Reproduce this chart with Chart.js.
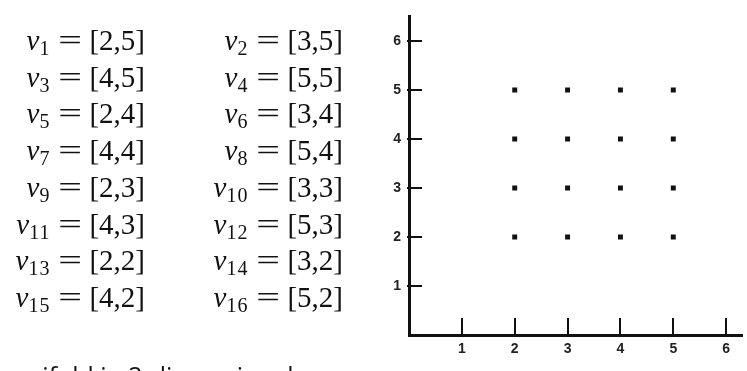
<!DOCTYPE html>
<html>
<head>
<meta charset="utf-8">
<script src="https://cdn.jsdelivr.net/npm/chart.js@4/dist/chart.umd.min.js"></script>
<style>
  html, body { margin: 0; padding: 0; background: #fff; overflow: hidden; }
  #wrap { position: relative; width: 747px; height: 371px; }
  #plot { position: absolute; left: 0; top: 0; }
  .eq {
    position: absolute; white-space: nowrap; text-align: right;
    font-family: 'Liberation Serif', 'Times New Roman', serif;
    font-size: 29px; line-height: 28px; color: #111;
  }
  .eq i { font-style: italic; }
  .eq sub { font-size: 20px; vertical-align: -5px; line-height: 0; letter-spacing: 1px; }
  .eq .rel { display: inline-block; width: 24px; margin: 0 7px 0 8px; text-align: center; transform: scaleX(1.45); }
  #caption {
    position: absolute; left: -10px; top: 364px; white-space: nowrap;
    font-family: 'Open Sans', sans-serif; font-size: 25px; line-height: 22px; color: #111;
  }
</style>
</head>
<body>
<div id="wrap">
  <canvas id="plot" width="747" height="371"></canvas>
  <div id="eqs"></div>
  <div id="caption"></div>
</div>
<script>
// points of the grid, v1..v16
var pointX = [2, 3, 4, 5, 2, 3, 4, 5, 2, 3, 4, 5, 2, 3, 4, 5];
var pointY = [5, 5, 5, 5, 4, 4, 4, 4, 3, 3, 3, 3, 2, 2, 2, 2];
var xTicks = [1, 2, 3, 4, 5, 6];
var yTicks = [1, 2, 3, 4, 5, 6];
var caption = 'manifold in 2-dimensional space';

// equations list, two per row
var eqBox = document.getElementById('eqs');
pointX.forEach(function (x, i) {
    var d = document.createElement('div');
    d.className = 'eq';
    var col = i % 2, row = Math.floor(i / 2);
    d.style.right = (747 - (col ? 343 : 145)) + 'px';
    d.style.top = (26 + row * 36.7) + 'px';
    d.innerHTML = '<i>v</i><sub>' + (i + 1) + '</sub><span class="rel">=</span>[' + x + ',' + pointY[i] + ']';
    eqBox.appendChild(d);
});
document.getElementById('caption').textContent = caption;

// short tick marks on the inner side of both axes
var innerTicks = {
    id: 'innerTicks',
    afterDraw: function (chart) {
        var ctx = chart.ctx, a = chart.chartArea;
        var sx = chart.scales.x, sy = chart.scales.y;
        ctx.save();
        ctx.strokeStyle = '#111';
        ctx.lineWidth = 2;
        ctx.beginPath();
        yTicks.forEach(function (v) {
            var y = Math.round(sy.getPixelForValue(v));
            ctx.moveTo(a.left - 2, y);
            ctx.lineTo(a.left + 13, y);
        });
        xTicks.forEach(function (v) {
            var x = Math.round(sx.getPixelForValue(v));
            ctx.moveTo(x, a.bottom);
            ctx.lineTo(x, a.bottom - 17);
        });
        ctx.stroke();
        ctx.restore();
    }
};

var tickFont = { family: "'Liberation Sans', Arial, sans-serif", size: 14, weight: 'bold' };

new Chart(document.getElementById('plot'), {
    type: 'scatter',
    data: {
        datasets: [{
            data: pointX.map(function (x, i) { return { x: x, y: pointY[i] }; }),
            pointStyle: 'rect', pointRadius: 3.5, borderWidth: 0,
            backgroundColor: '#111', borderColor: '#111'
        }]
    },
    options: {
        responsive: false, animation: false,
        layout: { padding: { left: 393, right: 5, top: 8, bottom: 16 } },
        plugins: { legend: { display: false }, tooltip: { enabled: false } },
        scales: {
            x: {
                type: 'linear', min: 0, max: 6.3,
                afterBuildTicks: function (s) { s.ticks = xTicks.map(function (v) { return { value: v }; }); },
                afterFit: function (s) { s.height = 20; },
                grid: { display: false, drawTicks: false },
                border: { color: '#111', width: 3 },
                ticks: { font: tickFont, color: '#222', padding: 6, maxRotation: 0, autoSkip: false }
            },
            y: {
                type: 'linear', min: 0, max: 6.5,
                afterBuildTicks: function (s) { s.ticks = yTicks.map(function (v) { return { value: v }; }); },
                afterFit: function (s) { s.width = 16; },
                grid: { display: false, drawTicks: false },
                border: { color: '#111', width: 3 },
                ticks: { font: tickFont, color: '#222', padding: 8, autoSkip: false }
            }
        }
    },
    plugins: [innerTicks]
});
</script>
</body>
</html>
